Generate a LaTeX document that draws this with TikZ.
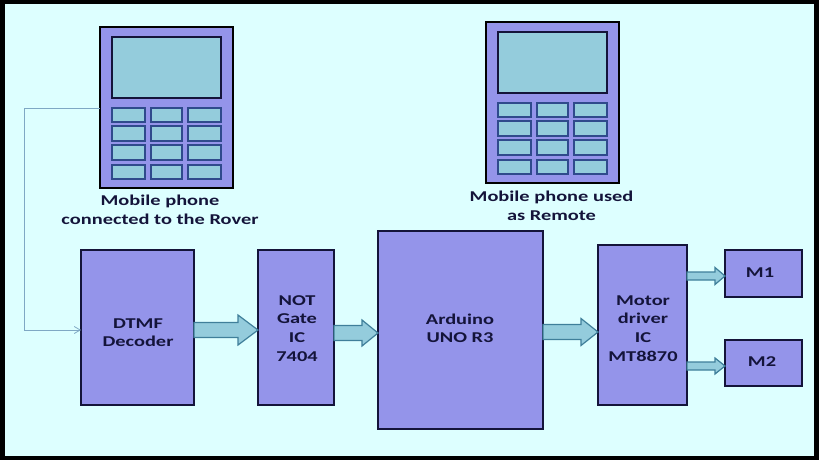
\documentclass[tikz,border=0pt]{standalone}
\usepackage{fontspec}
\setmainfont{Carlito}[FakeStretch=1.36]
\usetikzlibrary{calc,arrows.meta}
\definecolor{bgc}{HTML}{DDFFFF}
\definecolor{blk}{HTML}{9494EA}
\definecolor{pane}{HTML}{94CCDC}
\definecolor{ink}{HTML}{14143A}
\definecolor{keyline}{HTML}{2F4A8C}
\definecolor{arrowline}{HTML}{3F7F9A}
\definecolor{wire}{HTML}{7FA8C4}
\tikzset{
  block/.style={draw=ink,line width=1.8pt,fill=blk,inner sep=0pt,outer sep=0pt},
  phonebody/.style={draw=black,line width=1.5pt,fill=blk,inner sep=0pt,outer sep=0pt},
  screen/.style={draw=ink,line width=1.8pt,fill=pane},
  keypad/.style={draw=keyline,line width=1.5pt,fill=pane},
  txt/.style={font=\bfseries\fontsize{15}{18.6}\selectfont,text=ink,align=center,inner sep=0pt},
  fat/.style={draw=arrowline,line width=1.2pt,fill=pane,line join=miter},
  wireline/.style={draw=wire,line width=0.8pt}
}
% \fatarrow{from}{to}{y}{half tail}{half head}{head length}
\newcommand{\fatarrow}[6]{%
  \coordinate (s) at (#1.east |- 0,#3);
  \coordinate (e) at (#2.west |- 0,#3);
  \draw[fat] ($(s)+(0,-#4)$) -- ($(e)+(-#6,-#4)$) -- ($(e)+(-#6,-#5)$) -- (e)
    -- ($(e)+(-#6,#5)$) -- ($(e)+(-#6,#4)$) -- ($(s)+(0,#4)$) -- cycle;
}
% \boxat{name}{style}{x1}{y1}{x2}{y2}
\newcommand{\boxat}[6]{%
  \node[#2,minimum width=#5pt-#3pt,minimum height=#6pt-#4pt,anchor=north west] (#1) at (#3,#4) {};
}
% \phoneat{prefix}{dx}{dy}
\newcommand{\phoneat}[3]{%
  \begin{scope}[shift={(#2,#3)}]
    \boxat{#1body}{phonebody}{100}{27}{233}{188}
    \draw[screen] (112,37) rectangle (221,98);
    \foreach \ya/\yb in {108/122,126/141,145/160,165/179}
      \foreach \xa/\xb in {112/145,151/182,188/221}
        \draw[keypad] (\xa,\ya) rectangle (\xb,\yb);
  \end{scope}
}
\begin{document}
\begin{tikzpicture}[x=1pt,y=-1pt]
\useasboundingbox (0,0) rectangle (819,460);
\fill[black] (0,0) rectangle (819,460);
\fill[bgc] (5,4) rectangle (814,456);

\phoneat{pa}{0}{0}
\phoneat{pb}{386}{-5}

\node[txt] (capa) at (160,209.5) {Mobile phone\\connected to the Rover};
\node[txt] (capb) at (551.5,205.5) {Mobile phone used\\as Remote};

\boxat{dtmf}{block}{81}{250}{194}{405}
\boxat{notg}{block}{258}{250}{334}{405}
\boxat{ard}{block}{378}{231}{543}{429}
\boxat{mot}{block}{598}{245}{687}{405}
\boxat{ma}{block}{725}{250}{802}{297}
\boxat{mb}{block}{725}{340}{802}{386}

\node[txt] (tdtmf) at (138,332.5) {DTMF\\Decoder};
\node[txt] (tnot) at (297,328.3) {NOT\\Gate\\IC\\7404};
\node[txt] (tard) at (460,328.3) {Arduino\\UNO R3};
\node[txt] (tmot) at (643,328.3) {Motor\\driver\\IC\\MT8870};
\node[txt] (tma) at (760,272.7) {M1};
\node[txt] (tmb) at (762,361.7) {M2};

\fatarrow{dtmf}{notg}{330}{7.5}{15}{20}
\fatarrow{notg}{ard}{333}{7.5}{13}{16}
\fatarrow{ard}{mot}{332}{7.5}{13.5}{17}
\fatarrow{mot}{ma}{276}{4}{8.5}{10}
\fatarrow{mot}{mb}{366}{4}{8}{10}

\coordinate (bend) at (24,108);
\draw[wireline,-{Straight Barb[length=6pt,width=7pt]}] (pabody.west |- 0,108) -- (bend) -- (bend |- 0,330) -- (dtmf.west |- 0,330);
\end{tikzpicture}
\end{document}
